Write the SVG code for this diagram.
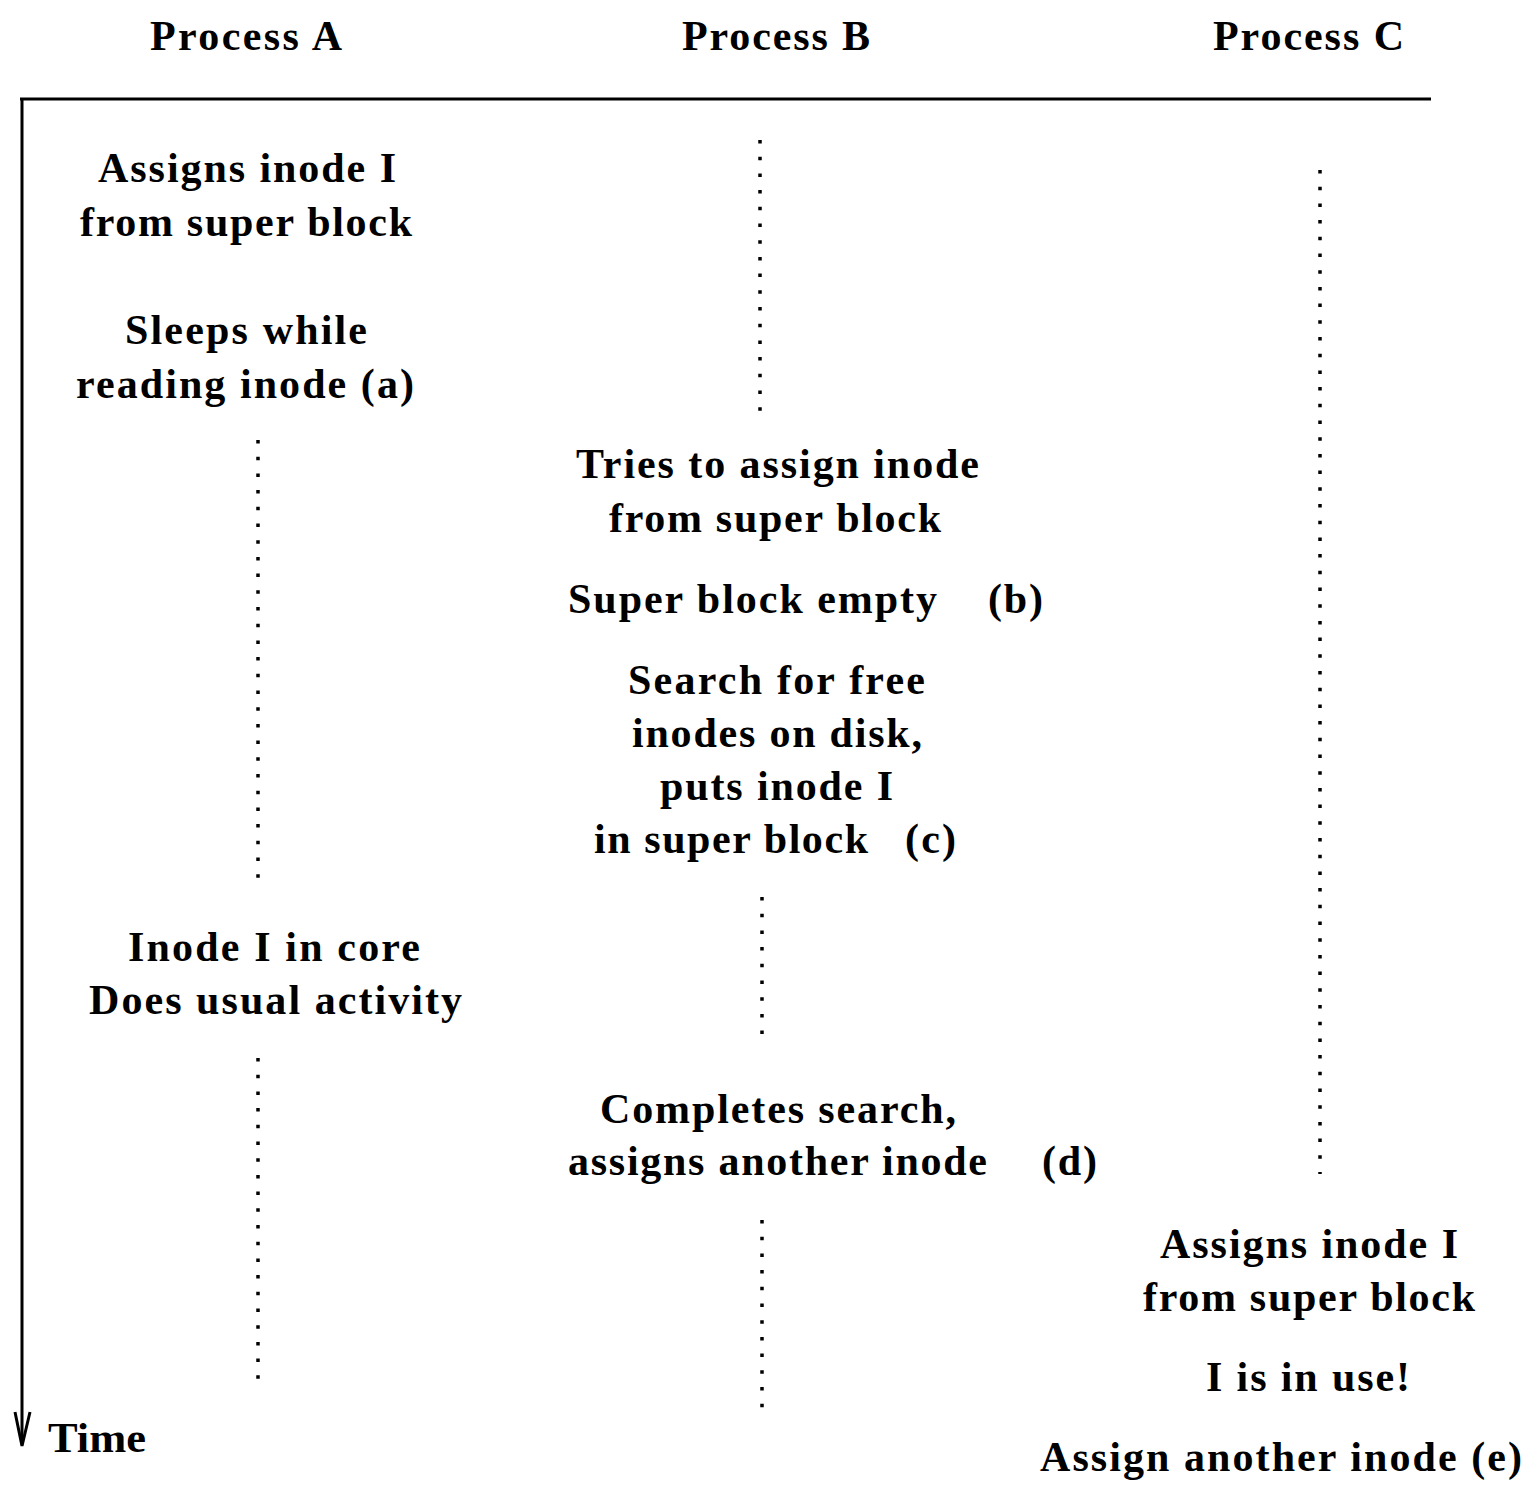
<svg xmlns="http://www.w3.org/2000/svg" width="1534" height="1490" viewBox="0 0 1534 1490">
<style>
text{font-family:"Liberation Serif","Times New Roman",serif;font-size:42px;font-weight:bold;fill:#000;}
.dot{stroke:#000;stroke-width:3.5;stroke-dasharray:3.5 13.2;fill:none;}
.axis{stroke:#000;stroke-width:3;fill:none;}
</style>
<rect width="1534" height="1490" fill="#fff"/>
<g id="axes">
<line class="axis" x1="20" y1="99" x2="1431" y2="99"/>
<line class="axis" x1="22" y1="99" x2="22" y2="1444"/>
<polyline class="axis" points="15,1412 22,1446 30,1412"/>
<text id="time" x="48" y="1452" textLength="98" lengthAdjust="spacingAndGlyphs" font-weight="normal">Time</text>
</g>
<g id="headers">
<text x="150" y="50" textLength="192" lengthAdjust="spacing">Process A</text>
<text x="682" y="50" textLength="188" lengthAdjust="spacing">Process B</text>
<text x="1213" y="50" textLength="191" lengthAdjust="spacing">Process C</text>
</g>
<g id="connectors">
<line class="dot" x1="258" y1="440" x2="258" y2="882"/>
<line class="dot" x1="258" y1="1058" x2="258" y2="1390"/>
<line class="dot" x1="760" y1="140" x2="760" y2="416"/>
<line class="dot" x1="762" y1="897" x2="762" y2="1040"/>
<line class="dot" x1="762" y1="1220" x2="762" y2="1414"/>
<line class="dot" x1="1320" y1="170" x2="1320" y2="1174"/>
</g>
<g id="nodeA1">
<text x="98" y="182" textLength="298" lengthAdjust="spacing">Assigns inode I</text>
<text x="80" y="236" textLength="332" lengthAdjust="spacing">from super block</text>
</g>
<g id="nodeA2">
<text x="125" y="344" textLength="242" lengthAdjust="spacing">Sleeps while</text>
<text x="76" y="398" textLength="338" lengthAdjust="spacing">reading inode (a)</text>
</g>
<g id="nodeB1">
<text x="576" y="478" textLength="403" lengthAdjust="spacing">Tries to assign inode</text>
<text x="609" y="532" textLength="332" lengthAdjust="spacing">from super block</text>
</g>
<g id="nodeB2">
<text x="568" y="613" textLength="369" lengthAdjust="spacing">Super block empty</text>
<text x="988" y="613" textLength="55" lengthAdjust="spacing">(b)</text>
</g>
<g id="nodeB3">
<text x="628" y="694" textLength="297" lengthAdjust="spacing">Search for free</text>
<text x="632" y="747" textLength="290" lengthAdjust="spacing">inodes on disk,</text>
<text x="660" y="800" textLength="233" lengthAdjust="spacing">puts inode I</text>
<text x="594" y="853" textLength="274" lengthAdjust="spacing">in super block</text>
<text x="905" y="853" textLength="51" lengthAdjust="spacing">(c)</text>
</g>
<g id="nodeA3">
<text x="128" y="961" textLength="292" lengthAdjust="spacing">Inode I in core</text>
<text x="89" y="1014" textLength="373" lengthAdjust="spacing">Does usual activity</text>
</g>
<g id="nodeB4">
<text x="600" y="1123" textLength="356" lengthAdjust="spacing">Completes search,</text>
<text x="568" y="1175" textLength="419" lengthAdjust="spacing">assigns another inode</text>
<text x="1042" y="1175" textLength="55" lengthAdjust="spacing">(d)</text>
</g>
<g id="nodeC1">
<text x="1160" y="1258" textLength="298" lengthAdjust="spacing">Assigns inode I</text>
<text x="1143" y="1311" textLength="332" lengthAdjust="spacing">from super block</text>
</g>
<g id="nodeC2">
<text x="1206" y="1391" textLength="204" lengthAdjust="spacing">I is in use!</text>
</g>
<g id="nodeC3">
<text x="1040" y="1471" textLength="482" lengthAdjust="spacing">Assign another inode (e)</text>
</g>
</svg>
